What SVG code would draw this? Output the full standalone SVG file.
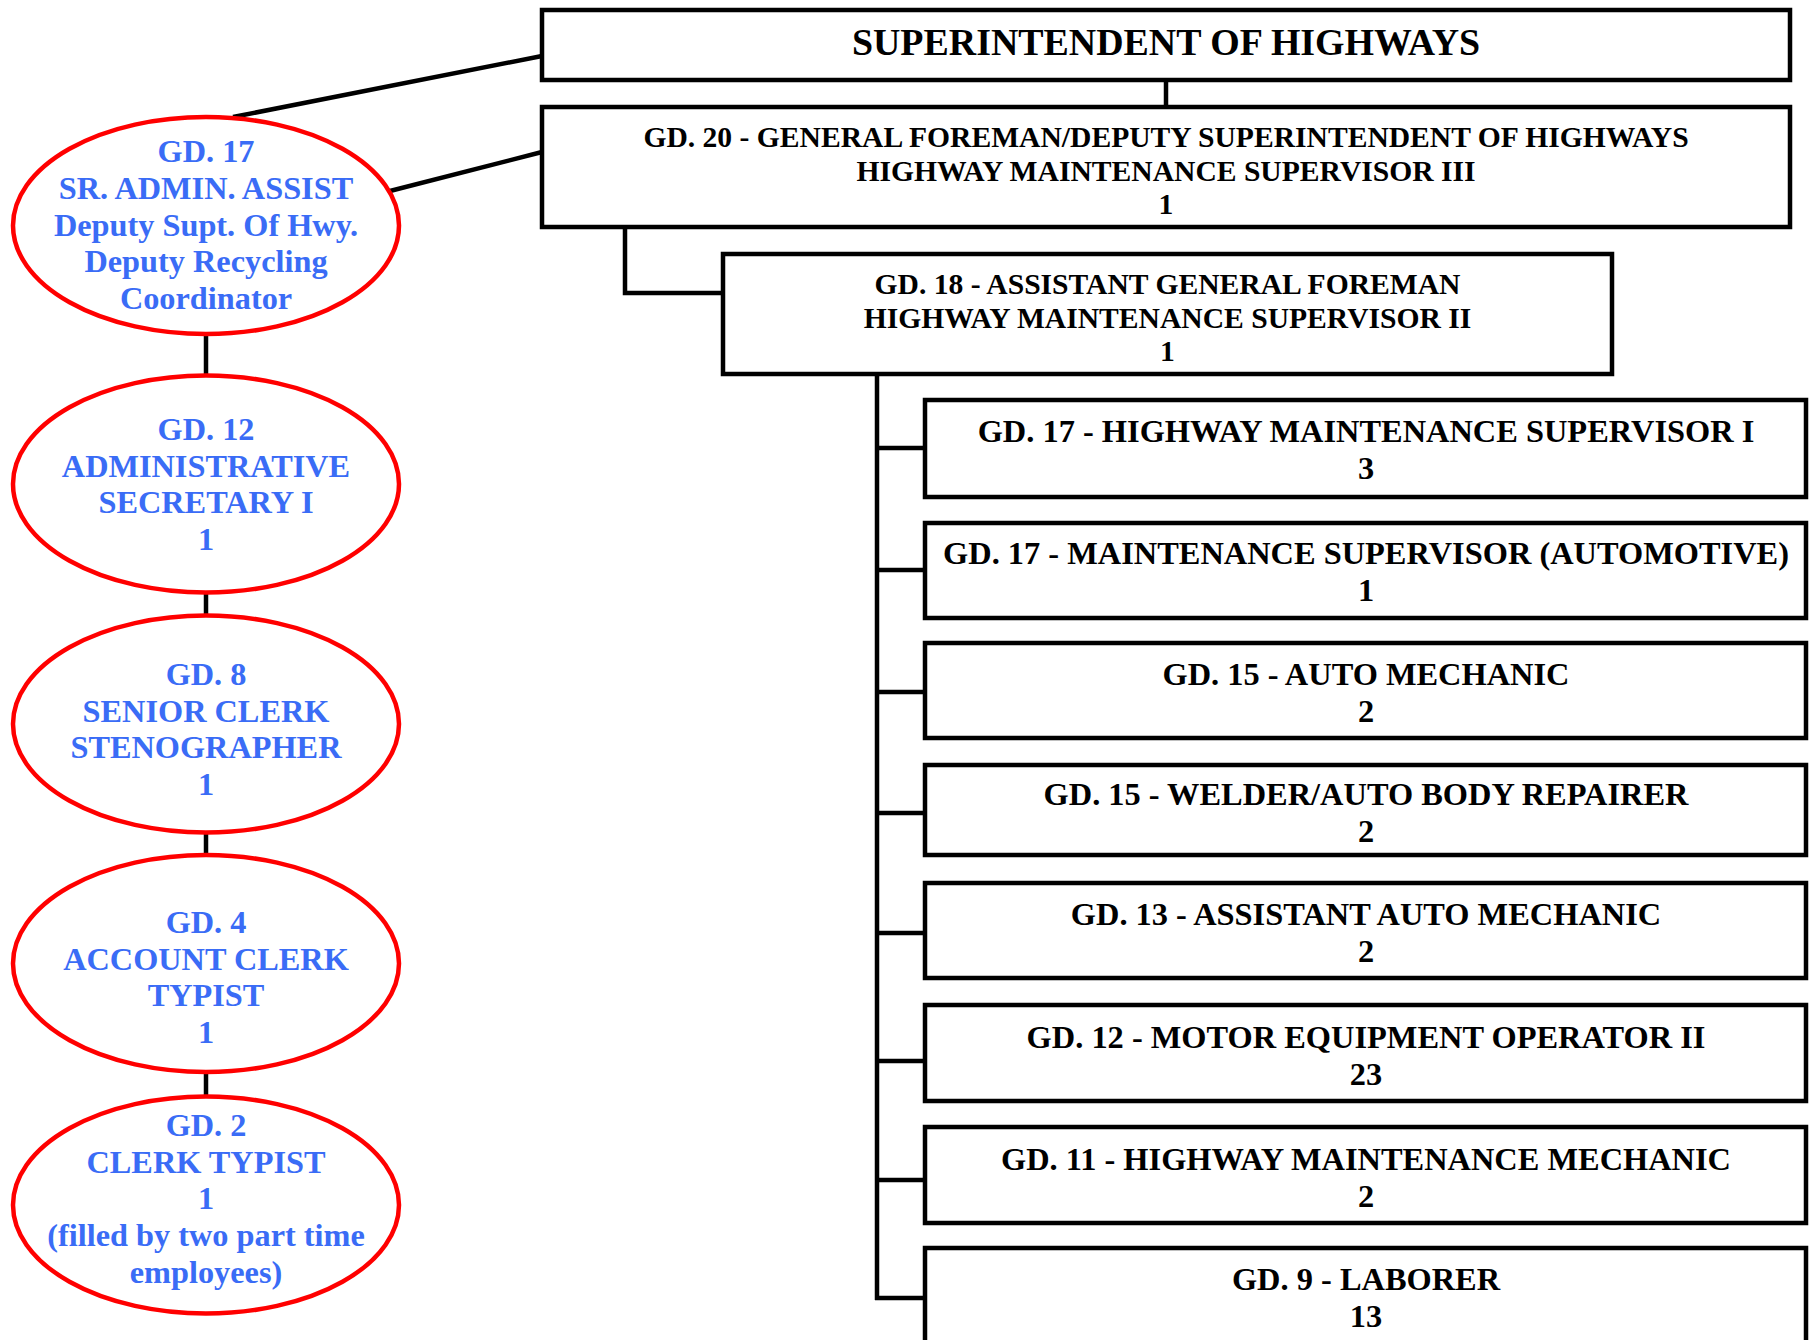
<svg xmlns="http://www.w3.org/2000/svg" width="1809" height="1340" viewBox="0 0 1809 1340">
<style>
.box{fill:#fff;stroke:#000;stroke-width:4.5}
.ell{fill:#fff;stroke:#ff0000;stroke-width:4.5}
.con{fill:none;stroke:#000;stroke-width:4.5}
.bt{font-family:"Liberation Serif","Times New Roman",serif;font-weight:bold;fill:#000;text-anchor:middle}
.et{font-family:"Liberation Serif","Times New Roman",serif;font-weight:bold;fill:#3a6cf6;text-anchor:middle;font-size:32.3px}
.t29{font-size:29.6px}
.t32{font-size:32.4px}
</style>
<rect width="1809" height="1340" fill="#fff"/>
<g id="connectors">
<line class="con" x1="542" y1="56" x2="233" y2="117"/>
<line class="con" x1="542" y1="152" x2="386" y2="192"/>
<line class="con" x1="1166" y1="80" x2="1166" y2="107"/>
<polyline class="con" points="625,227 625,293 723,293"/>
<line class="con" x1="877" y1="374" x2="877" y2="1300"/>
<line class="con" x1="875" y1="448" x2="925" y2="448"/>
<line class="con" x1="875" y1="570" x2="925" y2="570"/>
<line class="con" x1="875" y1="692" x2="925" y2="692"/>
<line class="con" x1="875" y1="813" x2="925" y2="813"/>
<line class="con" x1="875" y1="933" x2="925" y2="933"/>
<line class="con" x1="875" y1="1061" x2="925" y2="1061"/>
<line class="con" x1="875" y1="1180" x2="925" y2="1180"/>
<line class="con" x1="875" y1="1298" x2="925" y2="1298"/>
<line class="con" x1="206" y1="334" x2="206" y2="376"/>
<line class="con" x1="206" y1="592" x2="206" y2="616"/>
<line class="con" x1="206" y1="832" x2="206" y2="856"/>
<line class="con" x1="206" y1="1072" x2="206" y2="1098"/>
</g>
<g id="superintendent">
<rect class="box" x="542" y="10" width="1248" height="70"/>
<text class="bt" x="1166" y="55" font-size="37.9">SUPERINTENDENT OF HIGHWAYS</text>
</g>
<g id="gd20">
<rect class="box" x="542" y="107" width="1248" height="120"/>
<text class="bt t29" x="1166" y="147">GD. 20 - GENERAL FOREMAN/DEPUTY SUPERINTENDENT OF HIGHWAYS</text>
<text class="bt t29" x="1166" y="181">HIGHWAY MAINTENANCE SUPERVISOR III</text>
<text class="bt t29" x="1166" y="214">1</text>
</g>
<g id="gd18">
<rect class="box" x="723" y="254" width="889" height="120"/>
<text class="bt t29" x="1167.5" y="294">GD. 18 - ASSISTANT GENERAL FOREMAN</text>
<text class="bt t29" x="1167.5" y="328">HIGHWAY MAINTENANCE SUPERVISOR II</text>
<text class="bt t29" x="1167.5" y="361">1</text>
</g>
<g id="gd17-hms1">
<rect class="box" x="925" y="400" width="881" height="97"/>
<text class="bt t32" x="1366" y="442">GD. 17 - HIGHWAY MAINTENANCE SUPERVISOR I</text>
<text class="bt t32" x="1366" y="479">3</text>
</g>
<g id="gd17-msa">
<rect class="box" x="925" y="523" width="881" height="95"/>
<text class="bt t32" x="1366" y="564">GD. 17 - MAINTENANCE SUPERVISOR (AUTOMOTIVE)</text>
<text class="bt t32" x="1366" y="601">1</text>
</g>
<g id="gd15-am">
<rect class="box" x="925" y="643" width="881" height="95"/>
<text class="bt t32" x="1366" y="685">GD. 15 - AUTO MECHANIC</text>
<text class="bt t32" x="1366" y="722">2</text>
</g>
<g id="gd15-weld">
<rect class="box" x="925" y="765" width="881" height="90"/>
<text class="bt t32" x="1366" y="805">GD. 15 - WELDER/AUTO BODY REPAIRER</text>
<text class="bt t32" x="1366" y="842">2</text>
</g>
<g id="gd13">
<rect class="box" x="925" y="883" width="881" height="95"/>
<text class="bt t32" x="1366" y="925">GD. 13 - ASSISTANT AUTO MECHANIC</text>
<text class="bt t32" x="1366" y="962">2</text>
</g>
<g id="gd12-meo">
<rect class="box" x="925" y="1005" width="881" height="96"/>
<text class="bt t32" x="1366" y="1048">GD. 12 - MOTOR EQUIPMENT OPERATOR II</text>
<text class="bt t32" x="1366" y="1085">23</text>
</g>
<g id="gd11">
<rect class="box" x="925" y="1127" width="881" height="96"/>
<text class="bt t32" x="1366" y="1170">GD. 11 - HIGHWAY MAINTENANCE MECHANIC</text>
<text class="bt t32" x="1366" y="1207">2</text>
</g>
<g id="gd9">
<rect class="box" x="925" y="1248" width="881" height="130"/>
<text class="bt t32" x="1366" y="1290">GD. 9 - LABORER</text>
<text class="bt t32" x="1366" y="1327">13</text>
</g>
<g id="e-gd17">
<ellipse class="ell" cx="206" cy="225.5" rx="193" ry="108.5"/>
<text class="et" x="206" y="162">GD. 17</text>
<text class="et" x="206" y="199">SR. ADMIN. ASSIST</text>
<text class="et" x="206" y="235.5">Deputy Supt. Of Hwy.</text>
<text class="et" x="206" y="272">Deputy Recycling</text>
<text class="et" x="206" y="309">Coordinator</text>
</g>
<g id="e-gd12">
<ellipse class="ell" cx="206" cy="484" rx="193" ry="108.5"/>
<text class="et" x="206" y="440">GD. 12</text>
<text class="et" x="206" y="476.5">ADMINISTRATIVE</text>
<text class="et" x="206" y="513">SECRETARY I</text>
<text class="et" x="206" y="550">1</text>
</g>
<g id="e-gd8">
<ellipse class="ell" cx="206" cy="724" rx="193" ry="108.5"/>
<text class="et" x="206" y="685">GD. 8</text>
<text class="et" x="206" y="721.5">SENIOR CLERK</text>
<text class="et" x="206" y="758">STENOGRAPHER</text>
<text class="et" x="206" y="794.5">1</text>
</g>
<g id="e-gd4">
<ellipse class="ell" cx="206" cy="963.5" rx="193" ry="108.5"/>
<text class="et" x="206" y="933">GD. 4</text>
<text class="et" x="206" y="970">ACCOUNT CLERK</text>
<text class="et" x="206" y="1006">TYPIST</text>
<text class="et" x="206" y="1043">1</text>
</g>
<g id="e-gd2">
<ellipse class="ell" cx="206" cy="1205" rx="193" ry="108.5"/>
<text class="et" x="206" y="1136">GD. 2</text>
<text class="et" x="206" y="1173">CLERK TYPIST</text>
<text class="et" x="206" y="1209">1</text>
<text class="et" x="206" y="1246">(filled by two part time</text>
<text class="et" x="206" y="1283">employees)</text>
</g>
</svg>
